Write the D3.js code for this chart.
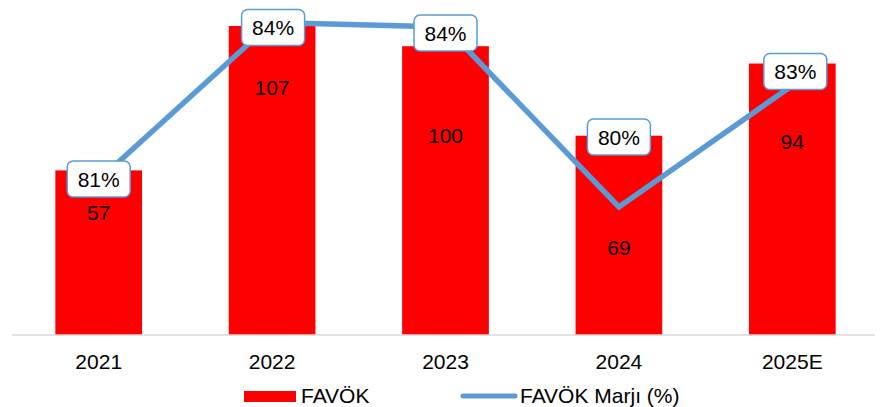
<!DOCTYPE html>
<html>
<head>
<meta charset="utf-8">
<script src="https://cdn.jsdelivr.net/npm/d3@7"></script>
<style>
  html, body { margin: 0; padding: 0; background: #ffffff; }
  svg { display: block; font-family: "Liberation Sans", Arial, sans-serif; }
</style>
</head>
<body>
<svg id="chart" width="885" height="407"></svg>
<script>
// FAVÖK (mn) and FAVÖK margin (%) by year
const years = ["2021", "2022", "2023", "2024", "2025E"];
const favok = [57, 107, 100, 69, 94];
const favokMargin = [80.7, 84.2, 84.1, 80.1, 82.8];
const legendLabels = ["FAVÖK", "FAVÖK Marjı (%)"];

// Hand-placed label nudges (px) so the boxes and numbers do not collide
const marginLabelDy = [-1, 5, 6, -70, -14];
const marginLabelDx = [0, 1, 0, 0, 3];
const valueLabelDy = [42, 62, 89, 112, 78];

const RED = "#ff0000";
const BLUE = "#5b9bd5";
const FS = 21;

const svg = d3.select("#chart");
const plot = { left: 12, right: 879, top: 0, bottom: 335 };

const x = d3.scaleBand()
  .domain(years)
  .range([plot.left, plot.right])
  .paddingInner(0.5)
  .paddingOuter(0.25);

const y = d3.scaleLinear()
  .domain([0, 100])
  .range([plot.bottom, plot.bottom - 288.8]);

// secondary axis for the margin line (not drawn)
const y2 = d3.scaleLinear()
  .domain([80, 84])
  .range([211.5, 31.5]);

// bars
svg.append("g").selectAll("rect")
  .data(favok)
  .join("rect")
  .attr("x", (d, i) => x(years[i]))
  .attr("y", d => y(d))
  .attr("width", x.bandwidth())
  .attr("height", d => y(0) - y(d))
  .attr("fill", RED);

// category axis
const xAxis = svg.append("g")
  .attr("transform", `translate(0,${plot.bottom})`)
  .call(d3.axisBottom(x).tickSize(0).tickPadding(0));
xAxis.select(".domain").attr("stroke", "#d9d9d9").attr("stroke-width", 1.5)
  .attr("d", `M${plot.left},0H${plot.right - 4}`);
xAxis.selectAll(".tick text")
  .attr("y", 34)
  .attr("dy", 0)
  .attr("font-size", FS)
  .attr("font-family", "Liberation Sans, Arial, sans-serif")
  .attr("fill", "#000");

// bar value labels
svg.append("g").selectAll("text")
  .data(favok)
  .join("text")
  .attr("x", (d, i) => x(years[i]) + x.bandwidth() / 2)
  .attr("y", (d, i) => y(d) + valueLabelDy[i] + 7.5)
  .attr("text-anchor", "middle")
  .attr("font-size", FS)
  .attr("fill", "#000")
  .text(d => d);

// margin line
const cx = (d, i) => x(years[i]) + x.bandwidth() / 2;
const line = d3.line()
  .x((d, i) => cx(d, i))
  .y(d => y2(d));
svg.append("path")
  .datum(favokMargin)
  .attr("d", line)
  .attr("fill", "none")
  .attr("stroke", BLUE)
  .attr("stroke-width", 5.5);

// margin labels in rounded boxes
const boxW = 63, boxH = 36;
const lbl = svg.append("g").selectAll("g")
  .data(favokMargin)
  .join("g")
  .attr("transform", (d, i) =>
    `translate(${cx(d, i) + marginLabelDx[i]},${y2(d) + marginLabelDy[i]})`);
lbl.append("rect")
  .attr("x", -boxW / 2)
  .attr("y", -boxH / 2)
  .attr("width", boxW)
  .attr("height", boxH)
  .attr("rx", 6)
  .attr("fill", "#fff")
  .attr("stroke", BLUE)
  .attr("stroke-width", 1.5);
lbl.append("text")
  .attr("text-anchor", "middle")
  .attr("y", 7.5)
  .attr("font-size", FS)
  .attr("fill", "#000")
  .text(d => d3.format(".0f")(d) + "%");

// legend
const lg = svg.append("g");
lg.append("rect")
  .attr("x", 244).attr("y", 391)
  .attr("width", 52).attr("height", 11)
  .attr("fill", RED);
lg.append("text")
  .attr("x", 301).attr("y", 403)
  .attr("font-size", FS)
  .attr("fill", "#000")
  .text(legendLabels[0]);
lg.append("line")
  .attr("x1", 463).attr("x2", 515)
  .attr("y1", 396).attr("y2", 396)
  .attr("stroke", BLUE)
  .attr("stroke-width", 5)
  .attr("stroke-linecap", "round");
lg.append("text")
  .attr("x", 520).attr("y", 403)
  .attr("font-size", FS)
  .attr("fill", "#000")
  .text(legendLabels[1]);
</script>
</body>
</html>
